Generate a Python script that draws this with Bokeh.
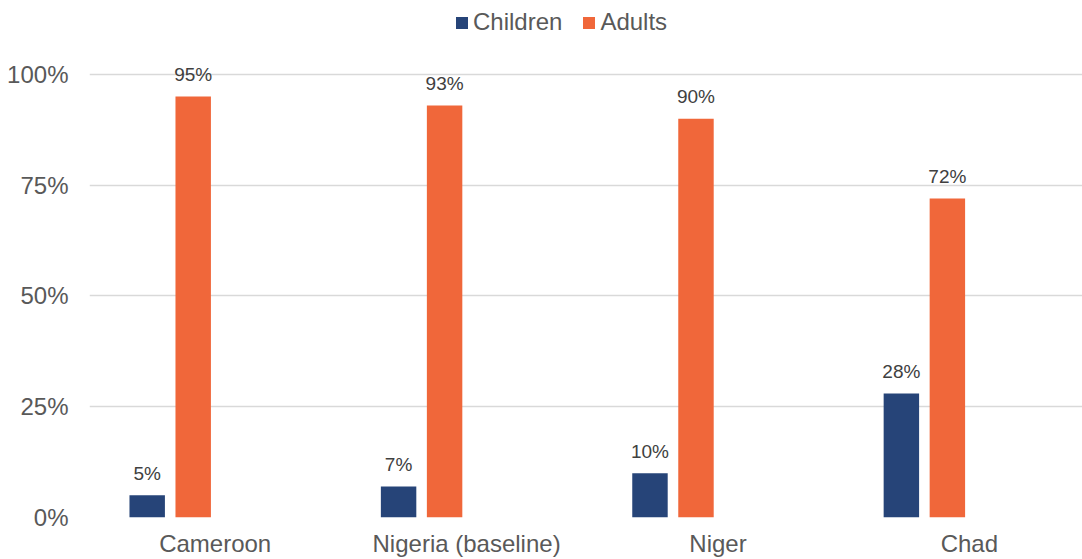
from bokeh.plotting import figure
from bokeh.models import Range1d, FixedTicker, ColumnDataSource, Legend, LegendItem
from bokeh.core.properties import value
from bokeh.embed import file_html
from bokeh.resources import INLINE

categories = ["Cameroon", "Nigeria (baseline)", "Niger", "Chad"]
children = [5, 7, 10, 28]
adults = [95, 93, 90, 72]
y_ticks = [0, 25, 50, 75, 100]
y_tick_labels = ["0%", "25%", "50%", "75%", "100%"]

FONT = "Liberation Sans"
BLUE = "#264478"
ORANGE = "#F0673A"
GRAY = "#595959"

n = len(categories)
centers = [i + 0.5 for i in range(n)]
off_c, off_a, bw = -0.2705, -0.0875, 0.141

src = ColumnDataSource(dict(
    xc=[c + off_c for c in centers],
    xa=[c + off_a for c in centers],
    children=children,
    adults=adults,
    lc=[f"{v}%" for v in children],
    la=[f"{v}%" for v in adults],
))

p = figure(width=1082, height=559, output_backend="svg", toolbar_location=None,
           x_range=Range1d(0, 3.95), y_range=Range1d(0, 116.67),
           min_border_left=89, min_border_right=0, min_border_top=0, min_border_bottom=41)
p.outline_line_color = None
p.background_fill_color = "white"
p.border_fill_color = "white"

rc = p.vbar(x="xc", top="children", width=bw, bottom=0, source=src,
            fill_color=BLUE, line_color=None)
ra = p.vbar(x="xa", top="adults", width=bw, bottom=0, source=src,
            fill_color=ORANGE, line_color=None)

for xcol, ycol, lcol in (("xc", "children", "lc"), ("xa", "adults", "la")):
    p.text(x=xcol, y=ycol, text=lcol, source=src, text_align="center",
           text_baseline="alphabetic", y_offset=-22,
           text_font=value(FONT), text_font_size="19px", text_color="#404040")

# axes
p.xaxis.ticker = FixedTicker(ticks=centers)
p.xaxis.major_label_overrides = {c: lab for c, lab in zip(centers, categories)}
p.xaxis.axis_line_color = None
p.xaxis.major_tick_line_color = None
p.xaxis.minor_tick_line_color = None
p.xaxis.major_tick_in = 0
p.xaxis.major_tick_out = 0
p.xaxis.major_label_text_font = FONT
p.xaxis.major_label_text_font_size = "24px"
p.xaxis.major_label_text_line_height = 1.0
p.xaxis.major_label_text_color = GRAY
p.xaxis.major_label_standoff = 12

p.yaxis.ticker = FixedTicker(ticks=y_ticks)
p.yaxis.major_label_overrides = {t: lab for t, lab in zip(y_ticks, y_tick_labels)}
p.yaxis.axis_line_color = None
p.yaxis.major_tick_line_color = None
p.yaxis.minor_tick_line_color = None
p.yaxis.major_tick_in = 0
p.yaxis.major_tick_out = 0
p.yaxis.major_label_text_font = FONT
p.yaxis.major_label_text_font_size = "24px"
p.yaxis.major_label_text_color = GRAY
p.yaxis.major_label_standoff = 21

p.xgrid.grid_line_color = None
p.ygrid.ticker = FixedTicker(ticks=y_ticks)
p.ygrid.grid_line_color = "#d9d9d9"
p.ygrid.grid_line_width = 1.5

legend = Legend(items=[LegendItem(label="Children", renderers=[rc]),
                       LegendItem(label="Adults", renderers=[ra])],
                orientation="horizontal", location=(365, 481),
                padding=0, margin=0, spacing=19, label_standoff=4,
                glyph_width=15, glyph_height=15,
                label_text_font=FONT, label_text_font_size="24px",
                label_text_color=GRAY, border_line_color=None,
                background_fill_alpha=0)
p.add_layout(legend)

open("out.html", "w").write(file_html(p, INLINE))
